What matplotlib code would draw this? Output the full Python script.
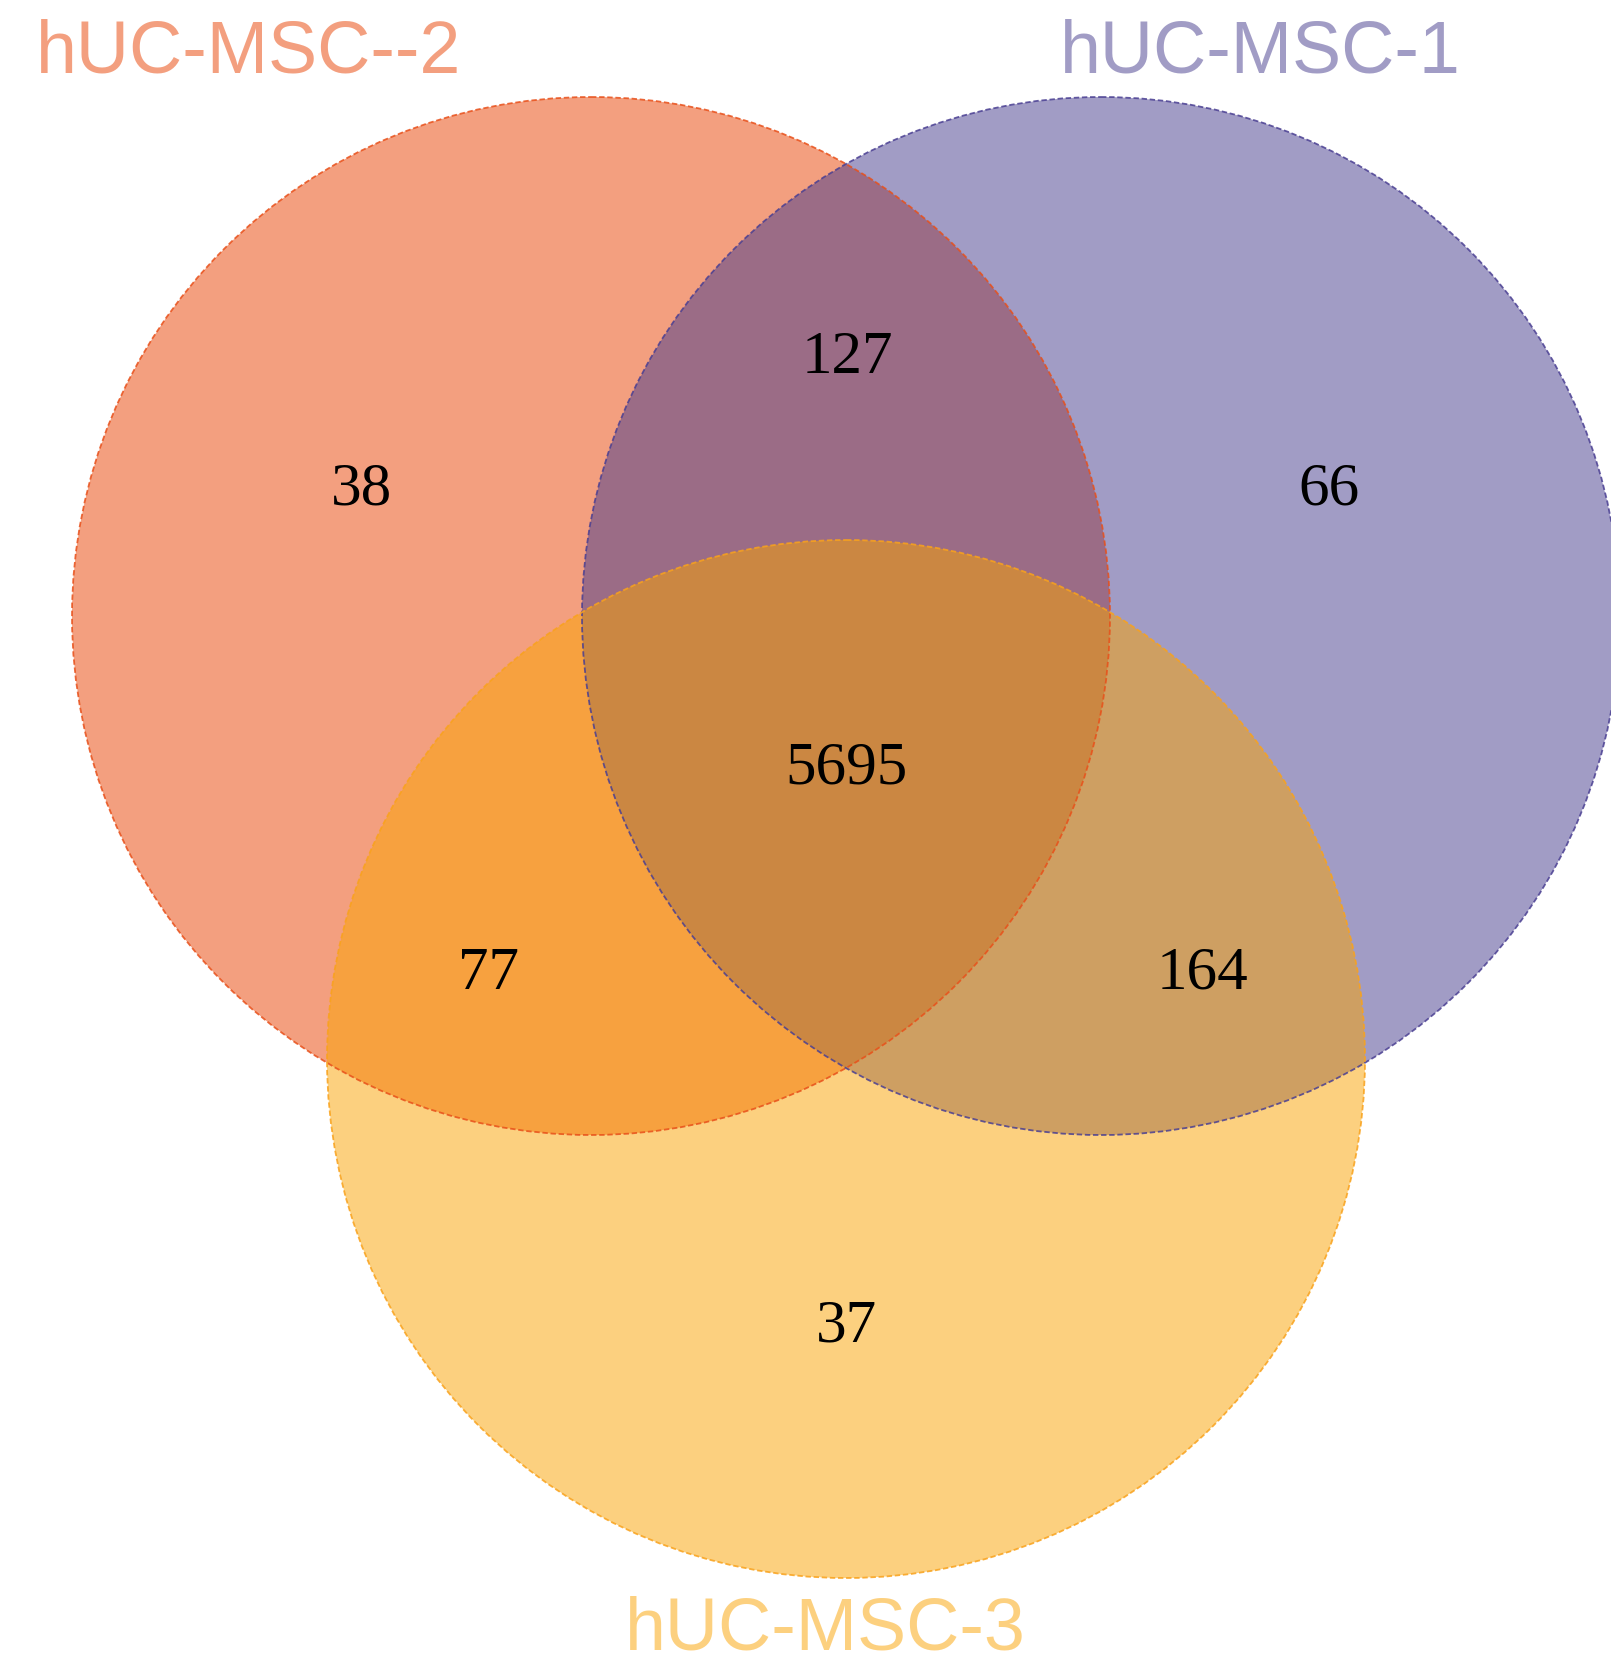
import matplotlib.pyplot as plt
from matplotlib.patches import Circle

# set names and region counts
set_names = ['hUC-MSC--2', 'hUC-MSC-1', 'hUC-MSC-3']
set_colors = ['#E94100', '#453B8D', '#FBA300']
edge_colors = ['#E8501A', '#4A3F92', '#F9A21C']

region_keys = ['100', '010', '001', '110', '101', '011', '111']
region_counts = [38, 66, 37, 127, 77, 164, 5695]

# layout (pixel space of the figure)
W, H = 1611, 1666
radius = 519
centers = [(591, 616), (1101, 616), (846, 1059)]
region_pos = {
    '100': (361, 490), '010': (1329, 490), '001': (846, 1327),
    '110': (847, 358), '101': (489, 974), '011': (1203, 974),
    '111': (846, 769),
}
name_pos = [(36, 72, 'left'), (1060, 72, 'left'), (825, 1649, 'center')]

fig = plt.figure(figsize=(W / 100, H / 100), dpi=100)
ax = fig.add_axes([0, 0, 1, 1])
ax.set_xlim(0, W)
ax.set_ylim(H, 0)
ax.set_aspect('equal')
ax.axis('off')

for (cx, cy), col in zip(centers, set_colors):
    ax.add_patch(Circle((cx, cy), radius, facecolor=col, alpha=0.5, edgecolor='none'))
for (cx, cy), ec in zip(centers, edge_colors):
    ax.add_patch(Circle((cx, cy), radius, facecolor='none', edgecolor=ec,
                        linewidth=1.3, linestyle=(0, (3, 1.5)), alpha=0.85))

for key, n in zip(region_keys, region_counts):
    x, y = region_pos[key]
    ax.text(x, y, str(n), ha='center', va='center', fontsize=44,
            family='Liberation Serif', color='black')

for name, col, (x, y, ha) in zip(set_names, set_colors, name_pos):
    ax.text(x, y, name, ha=ha, va='baseline', fontsize=53,
            family='Liberation Sans', color=col, alpha=0.5)

fig.savefig('out.png', dpi=100)
